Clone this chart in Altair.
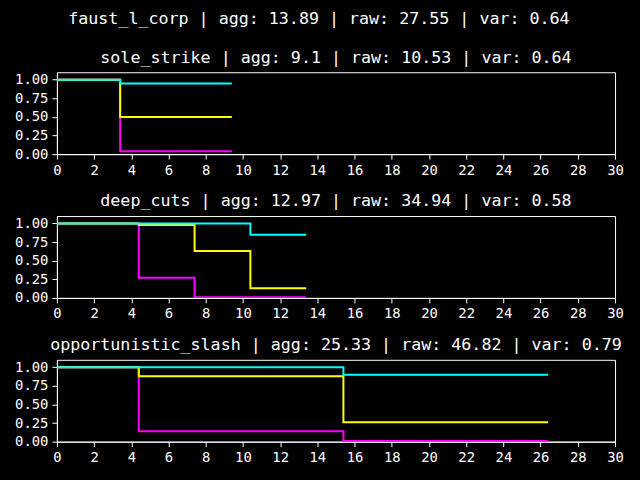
import altair as alt
import pandas as pd

FONT = "DejaVu Sans Mono"

suptitle = "faust_l_corp | agg: 13.89 | raw: 27.55 | var: 0.64"

titles = [
    "sole_strike | agg: 9.1 | raw: 10.53 | var: 0.64",
    "deep_cuts | agg: 12.97 | raw: 34.94 | var: 0.58",
    "opportunistic_slash | agg: 25.33 | raw: 46.82 | var: 0.79",
]

# panel 1
p1_x = [0, 3.4, 9.4]
p1_cyan = [1.0, 0.95, 0.95]
p1_yellow = [1.0, 0.5, 0.5]
p1_magenta = [1.0, 0.04, 0.04]

# panel 2
p2_x = [0, 4.4, 7.4, 10.4, 13.4]
p2_cyan = [1.0, 1.0, 1.0, 0.85, 0.85]
p2_yellow = [1.0, 0.98, 0.63, 0.13, 0.13]
p2_magenta = [1.0, 0.27, 0.01, 0.01, 0.01]

# panel 3
p3_x = [0, 4.4, 15.4, 26.4]
p3_cyan = [1.0, 1.0, 0.9, 0.9]
p3_yellow = [1.0, 0.88, 0.26, 0.26]
p3_magenta = [1.0, 0.14, 0.01, 0.01]

x_ticks = list(range(0, 31, 2))
y_ticks = [0.0, 0.25, 0.5, 0.75, 1.0]

panels = [
    (p1_x, p1_cyan, p1_yellow, p1_magenta),
    (p2_x, p2_cyan, p2_yellow, p2_magenta),
    (p3_x, p3_cyan, p3_yellow, p3_magenta),
]

colors = {"magenta": "#ff00ff", "yellow": "#ffff00", "cyan": "#00ffff"}


def panel(title, xs, cy, ye, ma):
    layers = []
    for name, vals in [("magenta", ma), ("yellow", ye), ("cyan", cy)]:
        df = pd.DataFrame({"x": xs, "y": vals})
        layers.append(
            alt.Chart(df)
            .mark_line(interpolate="step-after", color=colors[name], strokeWidth=2, clip=True)
            .encode(
                x=alt.X(
                    "x:Q",
                    scale=alt.Scale(domain=[0, 30], nice=False, zero=False),
                    axis=alt.Axis(values=x_ticks, title=None, format="d"),
                ),
                y=alt.Y(
                    "y:Q",
                    scale=alt.Scale(domain=[0, 1.1], nice=False),
                    axis=alt.Axis(values=y_ticks, title=None, format=".2f"),
                ),
            )
        )
    return alt.layer(*layers).properties(
        width=559,
        height=82,
        title=alt.TitleParams(
            title, font=FONT, fontSize=16.7, color="white", fontWeight="normal",
            anchor="middle", offset=6,
        ),
    )


charts = [panel(t, *p) for t, p in zip(titles, panels)]

chart = (
    alt.vconcat(*charts, spacing=14)
    .properties(
        title=alt.TitleParams(
            suptitle, font=FONT, fontSize=16.7, color="white", fontWeight="normal",
            anchor="middle", offset=21,
        ),
        padding={"left": 14, "top": 11, "right": 16, "bottom": 14},
        background="black",
    )
    .configure_view(stroke="white", strokeWidth=1)
    .configure_axis(
        domainColor="white",
        tickColor="white",
        labelColor="white",
        labelFont=FONT,
        labelFontSize=13.9,
        tickSize=5,
        labelPadding=4,
        labelFlush=False,
        labelOverlap=False,
        grid=False,
        domainWidth=1,
        tickWidth=1,
    )
)

chart.save("out.html", embed_options={"renderer": "svg", "actions": False})
